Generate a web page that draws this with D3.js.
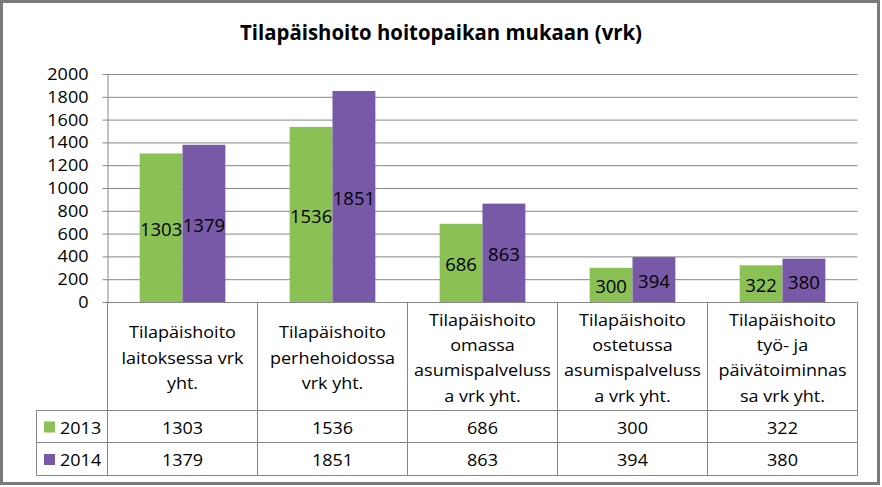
<!DOCTYPE html>
<html>
<head>
<meta charset="utf-8">
<script src="https://cdn.jsdelivr.net/npm/d3@7"></script>
<style>
  html, body { margin: 0; padding: 0; background: #fff; }
  svg { display: block; }
  text { font-family: "Open Sans", Lato, sans-serif; fill: #000; }
</style>
</head>
<body>
<svg id="chart" width="882" height="487"></svg>
<script>
// ---- data ----
const title = "Tilapäishoito hoitopaikan mukaan (vrk)";
const categories = [
  "Tilapäishoito laitoksessa vrk yht.",
  "Tilapäishoito perhehoidossa vrk yht.",
  "Tilapäishoito omassa asumispalvelussa vrk yht.",
  "Tilapäishoito ostetussa asumispalvelussa vrk yht.",
  "Tilapäishoito työ- ja päivätoiminnassa vrk yht."
];
const categoryLines = [
  ["Tilapäishoito", "laitoksessa vrk", "yht."],
  ["Tilapäishoito", "perhehoidossa", "vrk yht."],
  ["Tilapäishoito", "omassa", "asumispalveluss", "a vrk yht."],
  ["Tilapäishoito", "ostetussa", "asumispalveluss", "a vrk yht."],
  ["Tilapäishoito", "työ- ja", "päivätoiminnas", "sa vrk yht."]
];
const seriesNames = ["2013", "2014"];
const values2013 = [1303, 1536, 686, 300, 322];
const values2014 = [1379, 1851, 863, 394, 380];
const yTicks = [0, 200, 400, 600, 800, 1000, 1200, 1400, 1600, 1800, 2000];
const colors = ["#8bc154", "#7759a8"];

// ---- layout ----
const svg = d3.select("#chart");
const W = 882, H = 487;
const plotLeft = 107.5, plotRight = 857.5, plotTop = 74, plotBottom = 302;
const tableLeft = 36.5, headerBottom = 410, row1Bottom = 442, tableBottom = 475;
const FS = 17;          // body font size
const SX = 1.06;        // horizontal stretch for body text
const gridColor = "#868686";

const series = seriesNames.map((name, i) => ({
  name, color: colors[i], values: i === 0 ? values2013 : values2014
}));

const x = d3.scaleBand().domain(categories).range([plotLeft, plotRight]).paddingInner(0).paddingOuter(0);
const xs = d3.scaleBand().domain(seriesNames).range([0, x.bandwidth()]).paddingInner(0).paddingOuter(0.75);
const y = d3.scaleLinear().domain([0, 2000]).range([plotBottom, plotTop]);

// outer border
svg.append("rect").attr("x", 1.5).attr("y", 1.5).attr("width", W - 5).attr("height", H - 5)
  .attr("fill", "#fff").attr("stroke", "#7a7a7a").attr("stroke-width", 3);

// title
svg.append("text")
  .attr("transform", `translate(441,40) scale(0.97,1)`)
  .attr("text-anchor", "middle")
  .attr("font-weight", "bold").attr("font-size", 21)
  .text(title);

// gridlines
svg.append("g")
  .attr("transform", `translate(${plotLeft},0)`)
  .call(d3.axisLeft(y).tickValues(yTicks).tickSize(-(plotRight - plotLeft)).tickFormat(""))
  .call(g => g.select(".domain").remove())
  .call(g => g.selectAll("line").attr("stroke", gridColor).attr("stroke-width", 1));

// y axis
const yAxis = svg.append("g")
  .attr("transform", `translate(${plotLeft},0)`)
  .call(d3.axisLeft(y).tickValues(yTicks).tickFormat(d3.format("d")).tickSize(5).tickPadding(14).tickSizeOuter(0));
yAxis.select(".domain").attr("stroke", gridColor);
yAxis.selectAll(".tick line").attr("stroke", gridColor);
yAxis.selectAll("text")
  .attr("font-size", FS)
  .attr("font-family", '"Open Sans", Lato, sans-serif')
  .attr("fill", "#000")
  .attr("x", -19 / SX)
  .attr("transform", `scale(${SX},1)`);

// bars
const groups = svg.append("g").selectAll("g").data(series).join("g");
groups.selectAll("rect")
  .data(s => s.values.map((v, i) => ({ v, cat: categories[i], s })))
  .join("rect")
  .attr("x", d => x(d.cat) + xs(d.s.name))
  .attr("width", xs.bandwidth())
  .attr("y", d => y(d.v))
  .attr("height", d => y(0) - y(d.v))
  .attr("fill", d => d.s.color);

// data labels
groups.selectAll("text.lbl")
  .data(s => s.values.map((v, i) => ({ v, cat: categories[i], s })))
  .join("text")
  .attr("class", "lbl")
  .attr("text-anchor", "middle")
  .attr("dominant-baseline", "central")
  .attr("font-size", 18.5)
  .attr("transform", d => `translate(${x(d.cat) + xs(d.s.name) + xs.bandwidth() / 2},${(y(d.v) + y(0)) / 2 + 1}) scale(1.0,1)`)
  .text(d => d.v);

// data table lines
const tl = svg.append("g").attr("stroke", gridColor).attr("stroke-width", 1).attr("fill", "none");
tl.append("line").attr("x1", plotLeft).attr("x2", plotRight).attr("y1", plotBottom + 0.5).attr("y2", plotBottom + 0.5);
[headerBottom, row1Bottom, tableBottom].forEach(yy =>
  tl.append("line").attr("x1", tableLeft).attr("x2", plotRight).attr("y1", yy + 0.5).attr("y2", yy + 0.5));
tl.append("line").attr("x1", tableLeft).attr("x2", tableLeft).attr("y1", headerBottom).attr("y2", tableBottom + 0.5);
categories.forEach(c => {
  tl.append("line").attr("x1", x(c)).attr("x2", x(c)).attr("y1", plotBottom).attr("y2", tableBottom + 0.5);
});
tl.append("line").attr("x1", plotRight).attr("x2", plotRight).attr("y1", plotBottom).attr("y2", tableBottom + 0.5);

// header labels
const headerMid = (plotBottom + headerBottom) / 2 + 1;
const lineH = 25.3;
categories.forEach((c, i) => {
  const lines = categoryLines[i];
  const cx = x(c) + x.bandwidth() / 2;
  lines.forEach((ln, j) => {
    const cy = headerMid + (j - (lines.length - 1) / 2) * lineH;
    svg.append("text")
      .attr("text-anchor", "middle")
      .attr("dominant-baseline", "central")
      .attr("font-size", FS)
      .attr("transform", `translate(${cx},${cy}) scale(${SX},1)`)
      .text(ln);
  });
});

// value rows
const rowMids = [(headerBottom + row1Bottom) / 2 + 1, (row1Bottom + tableBottom) / 2 + 1];
series.forEach((s, si) => {
  const cy = rowMids[si];
  svg.append("rect").attr("x", 44).attr("y", cy - 5.5).attr("width", 11).attr("height", 11).attr("fill", s.color);
  svg.append("text")
    .attr("dominant-baseline", "central")
    .attr("font-size", FS)
    .attr("transform", `translate(60,${cy}) scale(${SX},1)`)
    .text(s.name);
  s.values.forEach((v, i) => {
    svg.append("text")
      .attr("text-anchor", "middle")
      .attr("dominant-baseline", "central")
      .attr("font-size", FS)
      .attr("transform", `translate(${x(categories[i]) + x.bandwidth() / 2},${cy}) scale(${SX},1)`)
      .text(v);
  });
});
</script>
</body>
</html>
